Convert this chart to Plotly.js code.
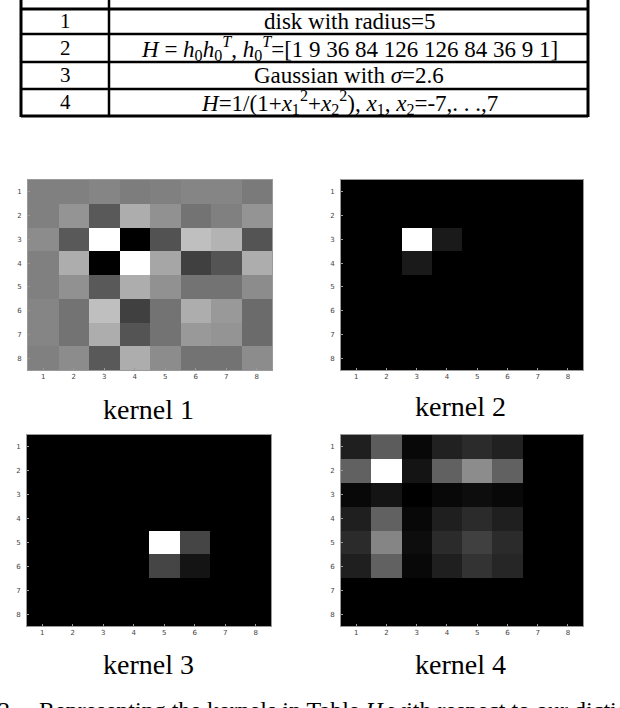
<!DOCTYPE html>
<html>
<head>
<meta charset="utf-8">
<script src="https://cdn.plot.ly/plotly-3.0.1.min.js"></script>
<style>
  body { margin: 0; background: #fff; }
  #fig { width: 620px; height: 708px; }
</style>
</head>
<body>
<div id="fig"></div>
<script>
// table contents
var tableIds = ['1', '2', '3', '4']
var tableDefs = [
    'disk with radius=5',
    '<i>H</i> = <i>h</i><sub>0</sub><i>h</i><sub>0</sub><sup><i>T</i></sup>, <i>h</i><sub>0</sub><sup><i>T</i></sup>=[1 9 36 84 126 126 84 36 9 1]',
    'Gaussian with <i>σ</i>=2.6',
    '<i>H</i>=1/(1+<i>x</i><sub>1</sub><sup>2</sup>+<i>x</i><sub>2</sub><sup>2</sup>), <i>x</i><sub>1</sub>, <i>x</i><sub>2</sub>=-7,. . .,7'
]

// kernel grid (rows 1..8, cols 1..8), gray level 0=black 1=white
var ticks = [1, 2, 3, 4, 5, 6, 7, 8]
var kernelNames = ['kernel 1', 'kernel 2', 'kernel 3', 'kernel 4']

var kernel1 = [
    [0.50, 0.50, 0.52, 0.49, 0.50, 0.52, 0.52, 0.48],
    [0.50, 0.58, 0.35, 0.68, 0.57, 0.45, 0.50, 0.58],
    [0.55, 0.35, 1.00, 0.00, 0.32, 0.75, 0.70, 0.33],
    [0.50, 0.68, 0.00, 1.00, 0.65, 0.25, 0.33, 0.68],
    [0.50, 0.57, 0.35, 0.68, 0.57, 0.45, 0.45, 0.55],
    [0.52, 0.45, 0.75, 0.25, 0.45, 0.68, 0.60, 0.42],
    [0.52, 0.45, 0.68, 0.33, 0.45, 0.60, 0.58, 0.42],
    [0.50, 0.55, 0.35, 0.68, 0.55, 0.45, 0.45, 0.55]
]
var kernel2 = [
    [0, 0, 0, 0, 0, 0, 0, 0],
    [0, 0, 0, 0, 0, 0, 0, 0],
    [0, 0, 1.00, 0.10, 0, 0, 0, 0],
    [0, 0, 0.10, 0, 0, 0, 0, 0],
    [0, 0, 0, 0, 0, 0, 0, 0],
    [0, 0, 0, 0, 0, 0, 0, 0],
    [0, 0, 0, 0, 0, 0, 0, 0],
    [0, 0, 0, 0, 0, 0, 0, 0]
]
var kernel3 = [
    [0, 0, 0, 0, 0, 0, 0, 0],
    [0, 0, 0, 0, 0, 0, 0, 0],
    [0, 0, 0, 0, 0, 0, 0, 0],
    [0, 0, 0, 0, 0, 0, 0, 0],
    [0, 0, 0, 0, 1.00, 0.27, 0, 0],
    [0, 0, 0, 0, 0.27, 0.08, 0, 0],
    [0, 0, 0, 0, 0, 0, 0, 0],
    [0, 0, 0, 0, 0, 0, 0, 0]
]
var kernel4 = [
    [0.12, 0.36, 0.03, 0.13, 0.17, 0.13, 0, 0],
    [0.38, 1.00, 0.08, 0.38, 0.55, 0.38, 0, 0],
    [0.03, 0.08, 0.00, 0.03, 0.05, 0.03, 0, 0],
    [0.12, 0.38, 0.03, 0.12, 0.17, 0.12, 0, 0],
    [0.17, 0.52, 0.05, 0.17, 0.25, 0.17, 0, 0],
    [0.12, 0.38, 0.03, 0.12, 0.20, 0.15, 0, 0],
    [0, 0, 0, 0, 0, 0, 0, 0],
    [0, 0, 0, 0, 0, 0, 0, 0]
]
var kernels = [kernel1, kernel2, kernel3, kernel4]

var W = 620, H = 708
function px(x) { return x / W }
function py(y) { return 1 - y / H }

var serif = 'Liberation Serif, Times New Roman, serif'

// plot boxes in pixels: [left, right, top, bottom]
var boxes = [
    [28, 272, 180, 370],
    [341, 583, 180, 370],
    [27, 271, 435, 626],
    [341, 583, 435, 626]
]
var labelPos = [[148, 409], [460, 407], [148, 664], [460, 664]]

var data = []
var layout = {
    width: W, height: H,
    margin: {l: 0, r: 0, t: 0, b: 0},
    paper_bgcolor: '#fff',
    plot_bgcolor: '#fff',
    showlegend: false,
    shapes: [],
    annotations: []
}

kernels.forEach(function (k, i) {
    var n = i == 0 ? '' : String(i + 1)
    data.push({
        type: 'heatmap',
        x: ticks, y: ticks, z: k,
        zmin: 0, zmax: 1,
        colorscale: [[0, '#000'], [1, '#fff']],
        showscale: false,
        xaxis: 'x' + n, yaxis: 'y' + n,
        hoverinfo: 'skip'
    })
    var b = boxes[i]
    var axStyle = {
        showline: true, mirror: true, linecolor: '#9a9a9a', linewidth: 1,
        showgrid: false, zeroline: false,
        ticks: 'inside', ticklen: 2, tickcolor: '#9a9a9a',
        tickvals: ticks, ticktext: ticks.map(String),
        tickfont: {family: 'DejaVu Sans, sans-serif', size: 7, color: '#444'}
    }
    layout['xaxis' + n] = Object.assign({}, axStyle, {
        domain: [px(b[0]), px(b[1])], range: [0.5, 8.5],
        anchor: 'y' + n, fixedrange: true
    })
    layout['yaxis' + n] = Object.assign({}, axStyle, {
        domain: [py(b[3]), py(b[2])], range: [8.5, 0.5],
        anchor: 'x' + n, fixedrange: true, ticklabelstandoff: 4
    })
    layout.annotations.push({
        xref: 'paper', yref: 'paper',
        x: px(labelPos[i][0]), y: py(labelPos[i][1]),
        xanchor: 'center', yanchor: 'middle',
        text: kernelNames[i], showarrow: false,
        font: {family: serif, size: 28, color: '#000'}
    })
})

// table lines
var tLeft = 21, tDiv = 109, tRight = 588
var rowLines = [9, 34, 62, 89, 116]
function line(x0, y0, x1, y1, w) {
    layout.shapes.push({
        type: 'line', xref: 'paper', yref: 'paper',
        x0: px(x0), y0: py(y0), x1: px(x1), y1: py(y1),
        line: {color: '#000', width: w}
    })
}
line(tLeft, -2, tLeft, 117, 3)
line(tRight, -2, tRight, 117, 3)
line(tDiv, -2, tDiv, 117, 2.5)
rowLines.forEach(function (y, j) {
    line(tLeft, y, tRight, y, j == 0 || j == rowLines.length - 1 ? 3 : 2.5)
})

// header (cut off at the top of the picture)
layout.annotations.push({
    xref: 'paper', yref: 'paper', x: px(64), y: py(7),
    xanchor: 'center', yanchor: 'bottom', text: 'kernel', showarrow: false,
    font: {family: serif, size: 21, color: '#000'}
})
layout.annotations.push({
    xref: 'paper', yref: 'paper', x: px(346), y: py(7),
    xanchor: 'center', yanchor: 'bottom', text: '<i>H</i>', showarrow: false,
    font: {family: serif, size: 21, color: '#000'}
})

tableIds.forEach(function (id, j) {
    var yc = (rowLines[j] + rowLines[j + 1]) / 2
    layout.annotations.push({
        xref: 'paper', yref: 'paper', x: px(65), y: py(yc),
        xanchor: 'center', yanchor: 'middle', text: id, showarrow: false,
        font: {family: serif, size: 21, color: '#000'}
    })
    layout.annotations.push({
        xref: 'paper', yref: 'paper', x: px(349), y: py(yc),
        xanchor: 'center', yanchor: 'middle', text: tableDefs[j], showarrow: false,
        font: {family: serif, size: 23, color: '#000'}
    })
})

// caption, cut off at the bottom
layout.annotations.push({
    xref: 'paper', yref: 'paper', x: px(-4), y: py(695),
    xanchor: 'left', yanchor: 'top', text: '2.', showarrow: false,
    font: {family: serif, size: 24, color: '#000'}
})
layout.annotations.push({
    xref: 'paper', yref: 'paper', x: px(37), y: py(695),
    xanchor: 'left', yanchor: 'top',
    text: 'Representing the kernels in Table <i>H</i> with respect to our dictionary',
    showarrow: false,
    font: {family: serif, size: 24, color: '#000'}
})

Plotly.newPlot('fig', data, layout, {staticPlot: true})
</script>
</body>
</html>
